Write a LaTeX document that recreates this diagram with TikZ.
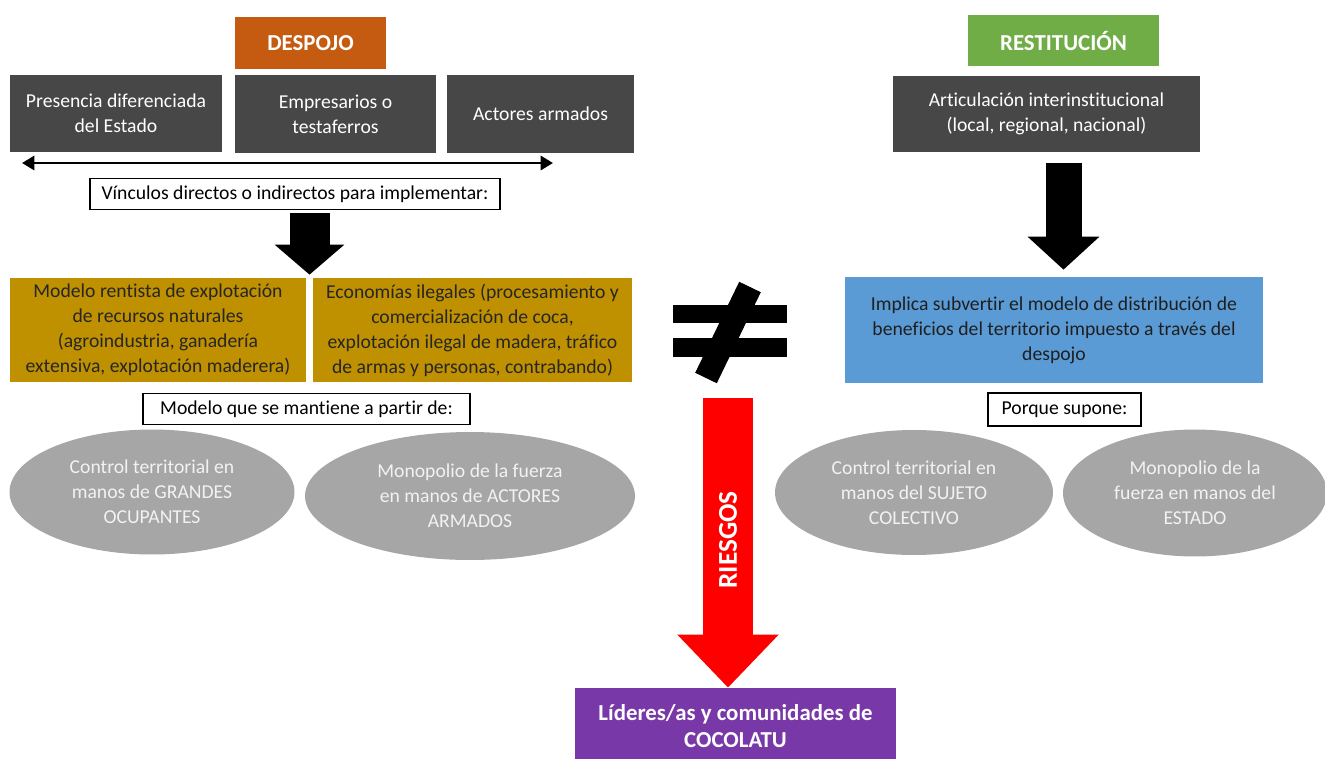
\documentclass[tikz,border=0pt]{standalone}
\usepackage{fontspec}
\setmainfont{Carlito}[Ligatures=NoCommon]
\usetikzlibrary{
  arrows.meta,
  positioning,
  calc,
  shapes.geometric
}
\definecolor{despojoc}{HTML}{C55A11}
\definecolor{restituc}{HTML}{70AD47}
\definecolor{boxgray}{HTML}{474747}
\definecolor{goldfill}{HTML}{BF9000}
\definecolor{bluefill}{HTML}{5B9BD5}
\definecolor{ellgray}{HTML}{A6A6A6}
\definecolor{riskred}{HTML}{FF0000}
\definecolor{purplec}{HTML}{7838A8}
\tikzset{
  base/.style      = {align=center, inner sep=0pt},
  darkbox/.style   = {base, fill=boxgray, text=white, minimum height=1.55cm},
  titlebox/.style  = {base, text=white, font=\fontsize{13}{15}\selectfont\bfseries},
  goldbox/.style   = {base, fill=goldfill, text=black!85, minimum height=2.08cm},
  notebox/.style   = {base, draw=black, line width=0.7pt, fill=white, minimum height=0.62cm},
  zone/.style      = {ellipse, base, fill=ellgray, text=white!95!black, minimum height=2.5cm},
  blockarrow/.style = {line width=0.8cm, -{Triangle[length=0.6cm, width=1.36cm]}}
}

\begin{document}
\begin{tikzpicture}[x=0.02cm, y=-0.02cm, font=\fontsize{11.2}{14.2}\selectfont]
  \useasboundingbox (0,0) rectangle (1325,758);

  % Despojo side
  \node [titlebox, fill=despojoc, minimum width=3.02cm, minimum height=1.04cm] (despojo) at (310.5, 43) {DESPOJO};
  \node [darkbox, minimum width=4.24cm] (estado)      at (116.0, 113.5) {Presencia diferenciada\\del Estado};
  \node [darkbox, minimum width=4.02cm] (empresarios) at (335.5, 114.0) {Empresarios o\\testaferros};
  \node [darkbox, minimum width=3.74cm] (armados)     at (540.5, 114.0) {Actores armados};

  \coordinate (linkL) at ( 22, 163);
  \coordinate (linkR) at (553, 163);
  \draw [line width=1.6pt, {Triangle[length=7pt, width=8pt]}-{Triangle[length=7pt, width=8pt]}] (linkL) -- (linkR);

  \node [notebox, minimum width=8.2cm] (vinculos) at (295, 194) {V\'{\i}nculos directos o indirectos para implementar:};

  \node [goldbox, minimum width=5.92cm] (rentista) at (158.0, 330) {Modelo rentista de explotaci\'on\\de recursos naturales\\(agroindustria, ganader\'{\i}a\\extensiva, explotaci\'on maderera)};
  \node [goldbox, minimum width=6.38cm] (ilegales) at (472.5, 330) {Econom\'{\i}as ilegales (procesamiento y\\comercializaci\'on de coca,\\explotaci\'on ilegal de madera, tr\'afico\\de armas y personas, contrabando)};

  \coordinate (gap) at ($(rentista.north east)!0.5!(ilegales.north west)$);
  \draw [blockarrow, shorten <=0.06cm, shorten >=0.06cm] (vinculos.south -| gap) -- (gap);

  \node [notebox, minimum width=6.54cm] (mantiene) at (306.5, 409) {Modelo que se mantiene a partir de:};

  \node [zone, minimum width=5.7cm]  (ocupantes) at (152, 492) {Control territorial en\\manos de GRANDES\\OCUPANTES};
  \node [zone, minimum width=6.6cm, minimum height=2.56cm] (fuerzaarm) at (470, 496) {Monopolio de la fuerza\\en manos de ACTORES\\ARMADOS};

  % Restitucion side
  \node [titlebox, fill=restituc, minimum width=3.82cm, minimum height=1.02cm] (restitucion) at (1063.5, 40.5) {RESTITUCI\'ON};
  \node [darkbox, minimum width=6.14cm, minimum height=1.52cm] (articulacion) at (1046.5, 114) {Articulaci\'on interinstitucional\\(local, regional, nacional)};

  \node [base, fill=bluefill, text=black!88, minimum width=8.36cm, minimum height=2.12cm] (subvertir) at (1054, 330) {Implica subvertir el modelo de distribuci\'on de\\beneficios del territorio impuesto a trav\'es del\\despojo};

  \draw [line width=0.72cm, -{Triangle[length=0.66cm, width=1.4cm]}, shorten <=0.22cm, shorten >=0.14cm] (articulacion.south -| restitucion) -- (subvertir.north -| restitucion);

  \node [notebox, minimum width=3.06cm, minimum height=0.66cm] (supone) at (1064.5, 409.5) {Porque supone:};

  \node [zone, minimum width=5.56cm] (sujeto)    at (914, 492.5) {Control territorial en\\manos del SUJETO\\COLECTIVO};
  \node [zone, minimum width=5.28cm, minimum height=2.54cm] (estadoell) at (1195, 493) {Monopolio de la\\fuerza en manos del\\ESTADO};

  % Not equal sign
  \fill (673, 305) rectangle (787, 323);
  \fill (673, 338) rectangle (787, 357);
  \draw [line width=0.48cm] (706, 378) -- (750, 287);

  % Risks
  \node [titlebox, fill=purplec, minimum width=6.42cm, minimum height=1.52cm] (lideres) at (735.5, 726) {L\'{\i}deres/as y comunidades de\\COCOLATU};

  \coordinate (riesgo) at (728, 398);
  \draw [riskred, line width=1cm, -{Triangle[length=1.06cm, width=1.96cm]}] (riesgo) -- (riesgo |- lideres.north)
    node [pos=0.49, rotate=90, text=white, font=\fontsize{15.5}{16}\selectfont\bfseries] (riesgos) {RIESGOS};
\end{tikzpicture}
\end{document}
